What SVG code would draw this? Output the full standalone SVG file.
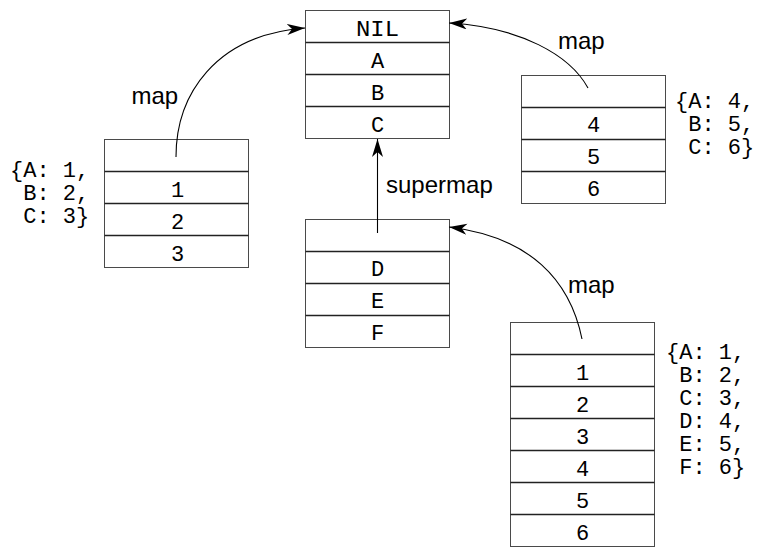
<svg xmlns="http://www.w3.org/2000/svg" width="757" height="548" viewBox="0 0 757 548">
<style>
.box{fill:#fff;stroke:#4a4a4a;stroke-width:1}
.div{stroke:#222;stroke-width:1.3}
.cell{font-family:"Liberation Mono","DejaVu Sans Mono",monospace;font-size:22px;text-anchor:middle;fill:#000}
.side{font-family:"Liberation Mono","DejaVu Sans Mono",monospace;font-size:22px;fill:#000}
.lbl{font-family:"Liberation Sans",Arial,sans-serif;font-size:24px;fill:#000}
.conn{fill:none;stroke:#000;stroke-width:1.1}
</style>
<defs>
<marker id="ah" markerUnits="userSpaceOnUse" markerWidth="20" markerHeight="12" refX="18" refY="5.5" orient="auto" viewBox="0 0 20 12">
<path d="M0,0 L18,5.5 L0,11 L5,5.5 z" fill="#000"/>
</marker>
</defs>
<rect width="757" height="548" fill="#fff"/>

<g id="nil-map">
<rect class="box" x="305.5" y="10.5" width="144" height="128"/>
<line class="div" x1="305.5" y1="42.5" x2="449.5" y2="42.5"/>
<line class="div" x1="305.5" y1="74.5" x2="449.5" y2="74.5"/>
<line class="div" x1="305.5" y1="106.5" x2="449.5" y2="106.5"/>
<text class="cell" x="377.5" y="35.5" textLength="43" lengthAdjust="spacingAndGlyphs">NIL</text>
<text class="cell" x="377.5" y="67.5">A</text>
<text class="cell" x="377.5" y="99.5">B</text>
<text class="cell" x="377.5" y="131.5">C</text>
</g>

<g id="left-map">
<rect class="box" x="104.5" y="139.5" width="144" height="128"/>
<line class="div" x1="104.5" y1="171.5" x2="248.5" y2="171.5"/>
<line class="div" x1="104.5" y1="203.5" x2="248.5" y2="203.5"/>
<line class="div" x1="104.5" y1="235.5" x2="248.5" y2="235.5"/>
<text class="cell" x="177.5" y="196.5">1</text>
<text class="cell" x="177.5" y="228.5">2</text>
<text class="cell" x="177.5" y="260.5">3</text>
<text class="side" xml:space="preserve"><tspan x="10" y="177">{A: 1,</tspan><tspan x="10" y="200"> B: 2,</tspan><tspan x="10" y="223"> C: 3}</tspan></text>
</g>

<g id="right-map">
<rect class="box" x="521.5" y="75.5" width="144" height="128"/>
<line class="div" x1="521.5" y1="107.5" x2="665.5" y2="107.5"/>
<line class="div" x1="521.5" y1="139.5" x2="665.5" y2="139.5"/>
<line class="div" x1="521.5" y1="171.5" x2="665.5" y2="171.5"/>
<text class="cell" x="593.5" y="132">4</text>
<text class="cell" x="593.5" y="164">5</text>
<text class="cell" x="593.5" y="196">6</text>
<text class="side" xml:space="preserve"><tspan x="675" y="108">{A: 4,</tspan><tspan x="675" y="131"> B: 5,</tspan><tspan x="675" y="154"> C: 6}</tspan></text>
</g>

<g id="def-map">
<rect class="box" x="305.5" y="219.5" width="144" height="128"/>
<line class="div" x1="305.5" y1="251.5" x2="449.5" y2="251.5"/>
<line class="div" x1="305.5" y1="283.5" x2="449.5" y2="283.5"/>
<line class="div" x1="305.5" y1="315.5" x2="449.5" y2="315.5"/>
<text class="cell" x="377.5" y="276">D</text>
<text class="cell" x="377.5" y="308">E</text>
<text class="cell" x="377.5" y="340">F</text>
</g>

<g id="bottom-map">
<rect class="box" x="510.5" y="322.5" width="144" height="224"/>
<line class="div" x1="510.5" y1="354.5" x2="654.5" y2="354.5"/>
<line class="div" x1="510.5" y1="386.5" x2="654.5" y2="386.5"/>
<line class="div" x1="510.5" y1="418.5" x2="654.5" y2="418.5"/>
<line class="div" x1="510.5" y1="450.5" x2="654.5" y2="450.5"/>
<line class="div" x1="510.5" y1="482.5" x2="654.5" y2="482.5"/>
<line class="div" x1="510.5" y1="514.5" x2="654.5" y2="514.5"/>
<text class="cell" x="582.5" y="379.5">1</text>
<text class="cell" x="582.5" y="411.5">2</text>
<text class="cell" x="582.5" y="443.5">3</text>
<text class="cell" x="582.5" y="475.5">4</text>
<text class="cell" x="582.5" y="507.5">5</text>
<text class="cell" x="582.5" y="539.5">6</text>
<text class="side" xml:space="preserve"><tspan x="666" y="359">{A: 1,</tspan><tspan x="666" y="382"> B: 2,</tspan><tspan x="666" y="405"> C: 3,</tspan><tspan x="666" y="428"> D: 4,</tspan><tspan x="666" y="451"> E: 5,</tspan><tspan x="666" y="474"> F: 6}</tspan></text>
</g>

<g id="connectors">
<path class="conn" d="M176,157 C176,95 215,35 305,28" marker-end="url(#ah)"/>
<path class="conn" d="M588,88 C570,55 520,27 449,23" marker-end="url(#ah)"/>
<path class="conn" d="M377.5,233 L377.5,139" marker-end="url(#ah)"/>
<path class="conn" d="M582,339 C570,280 530,237 449,227" marker-end="url(#ah)"/>
<text class="lbl" x="131.5" y="104">map</text>
<text class="lbl" x="558" y="49">map</text>
<text class="lbl" x="386" y="192.5">supermap</text>
<text class="lbl" x="568" y="292.5">map</text>
</g>
</svg>
